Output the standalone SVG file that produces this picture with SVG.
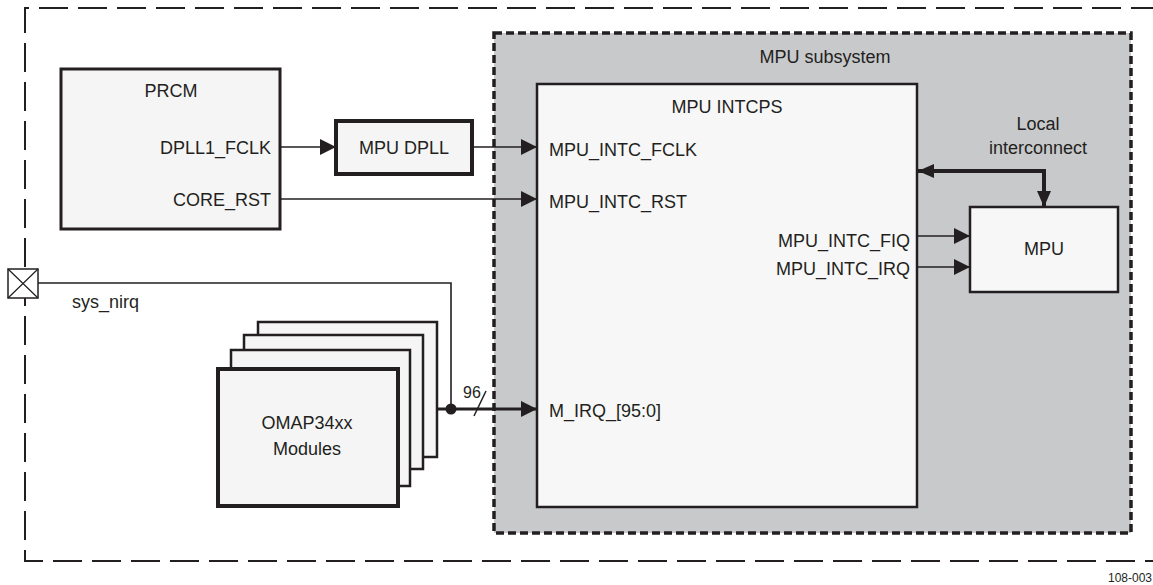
<svg xmlns="http://www.w3.org/2000/svg" width="1153" height="585" viewBox="0 0 1153 585">
<style>
text{font-family:"Liberation Sans",Arial,sans-serif;font-size:18px;fill:#231f20}
.box{stroke:#231f20;fill:#f5f5f5}
.ln{stroke:#231f20;fill:none;stroke-width:1.6}
.thick{stroke:#231f20;fill:none;stroke-width:4}
</style>
<defs>
<marker id="ah" viewBox="0 0 16 16" refX="16" refY="8" markerWidth="16" markerHeight="16" markerUnits="userSpaceOnUse" orient="auto-start-reverse"><path d="M0,0 L16,8 L0,16 Z" fill="#231f20"/></marker>
<marker id="ahb" viewBox="0 0 16 16" refX="16" refY="8" markerWidth="16" markerHeight="16" markerUnits="userSpaceOnUse" orient="auto-start-reverse"><path d="M0,1 L16,8 L0,15 Z" fill="#231f20"/></marker>
</defs>
<rect width="1153" height="585" fill="#ffffff"/>
<g id="boundary">
<path d="M1160,8 H25 V561 H1160" fill="none" stroke="#231f20" stroke-width="2" stroke-dasharray="29,10"/>
</g>
<g id="mpu-subsystem">
<rect x="494" y="33" width="637" height="500" fill="#c8c9cb" stroke="#231f20" stroke-width="3.5" stroke-dasharray="8,4"/>
<text x="825" y="63" text-anchor="middle">MPU subsystem</text>
</g>
<g id="prcm">
<rect class="box" x="61" y="69" width="219" height="160" stroke-width="3"/>
<text x="171" y="97" text-anchor="middle">PRCM</text>
<text x="271" y="154" text-anchor="end">DPLL1_FCLK</text>
<text x="271" y="206" text-anchor="end">CORE_RST</text>
</g>
<g id="mpu-dpll">
<rect class="box" x="336" y="121" width="136" height="53" stroke-width="4"/>
<text x="404" y="154" text-anchor="middle">MPU DPLL</text>
</g>
<g id="mpu-intcps">
<rect x="537" y="84" width="380" height="423" fill="#f7f7f7" stroke="#231f20" stroke-width="2.5"/>
<text x="727" y="113" text-anchor="middle">MPU INTCPS</text>
<text x="549" y="156">MPU_INTC_FCLK</text>
<text x="549" y="208">MPU_INTC_RST</text>
<text x="910" y="247" text-anchor="end">MPU_INTC_FIQ</text>
<text x="910" y="275" text-anchor="end">MPU_INTC_IRQ</text>
<text x="549" y="417">M_IRQ_[95:0]</text>
</g>
<g id="mpu">
<rect x="970" y="207" width="148" height="85" fill="#f7f7f7" stroke="#231f20" stroke-width="2.5"/>
<text x="1044" y="255" text-anchor="middle">MPU</text>
</g>
<g id="local-interconnect-label">
<text x="1038" y="130" text-anchor="middle">Local</text>
<text x="1038" y="154" text-anchor="middle">interconnect</text>
</g>
<g id="omap-modules">
<rect class="box" x="258" y="322" width="179" height="135" stroke-width="2.5"/>
<rect class="box" x="244" y="335" width="179" height="134" stroke-width="2.5"/>
<rect class="box" x="231" y="350" width="179" height="136" stroke-width="2.5"/>
<rect class="box" x="218" y="369" width="180" height="137" stroke-width="4"/>
<text x="307" y="429" text-anchor="middle">OMAP34xx</text>
<text x="307" y="455" text-anchor="middle">Modules</text>
</g>
<g id="sys-nirq-pad">
<rect x="8" y="269" width="30" height="29" fill="#ffffff" stroke="#231f20" stroke-width="1.5"/>
<path d="M8,269 L38,298 M38,269 L8,298" stroke="#231f20" stroke-width="1.2"/>
<text x="72" y="308">sys_nirq</text>
</g>
<g id="connectors">
<line class="ln" x1="280" y1="147" x2="336" y2="147" marker-end="url(#ah)"/>
<line class="ln" x1="472" y1="147" x2="537" y2="147" marker-end="url(#ah)"/>
<line class="ln" x1="280" y1="199" x2="537" y2="199" marker-end="url(#ah)"/>
<line class="ln" x1="917" y1="236" x2="970" y2="236" marker-end="url(#ah)"/>
<line class="ln" x1="917" y1="267" x2="970" y2="267" marker-end="url(#ah)"/>
<path class="thick" d="M918,171 H1044 V207" marker-start="url(#ahb)" marker-end="url(#ahb)"/>
<path class="ln" d="M38,283 H451 V409" stroke-width="2"/>
<line x1="437" y1="409" x2="537" y2="409" stroke="#231f20" stroke-width="3" marker-end="url(#ah)"/>
<circle cx="451" cy="409" r="5.5" fill="#231f20"/>
<line x1="486" y1="391" x2="474" y2="416" stroke="#231f20" stroke-width="1.5"/>
<text x="463" y="398" style="font-size:16px">96</text>
</g>
<text x="1108" y="582" style="font-size:12px">108-003</text>
</svg>
